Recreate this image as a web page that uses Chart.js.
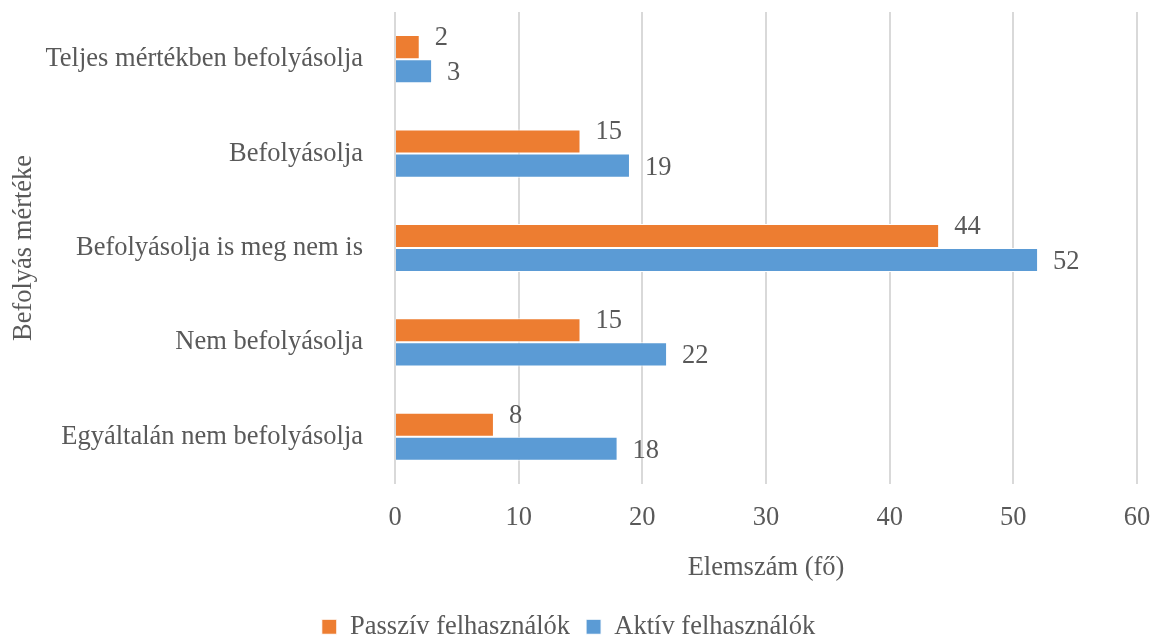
<!DOCTYPE html>
<html lang="hu">
<head>
  <meta charset="UTF-8">
  <title>Befolyás mértéke</title>
  <script src="https://cdn.jsdelivr.net/npm/chart.js"></script>
  <style>
    body {
      margin: 0;
      padding: 0;
      background-color: #ffffff;
    }
    #wrap {
      width: 1154px;
      height: 636px;
    }
  </style>
</head>
<body>
  <div id="wrap">
    <canvas id="chart" width="1154" height="636"></canvas>
  </div>

  <script>
    const kategoriak = [
      'Teljes mértékben befolyásolja',
      'Befolyásolja',
      'Befolyásolja is meg nem is',
      'Nem befolyásolja',
      'Egyáltalán nem befolyásolja'
    ];
    const passziv = [2, 15, 44, 15, 8];
    const aktiv = [3, 19, 52, 22, 18];
    const xTicks = [0, 10, 20, 30, 40, 50, 60];

    const betu = 'Liberation Serif, Times New Roman, serif';
    const szoveg = '#595959';
    const meret = 26.5;

    // értékcímkék a sávok végén
    const cimkek = {
      id: 'cimkek',
      afterDatasetsDraw(chart) {
        const ctx = chart.ctx;
        ctx.save();
        ctx.font = meret + 'px ' + betu;
        ctx.fillStyle = szoveg;
        ctx.textAlign = 'left';
        ctx.textBaseline = 'middle';
        const eltolas = [-9, 2];
        chart.data.datasets.forEach((ds, i) => {
          chart.getDatasetMeta(i).data.forEach((bar, j) => {
            ctx.fillText(String(ds.data[j]), bar.x + 15, bar.y + eltolas[i]);
          });
        });
        ctx.restore();
      }
    };

    // a jelmagyarázat kicsit lejjebb kerül (mint az eredetin, alul levágva)
    const legendLejjebb = {
      id: 'legendLejjebb',
      beforeInit(chart) {
        const eredeti = chart.legend.fit;
        chart.legend.fit = function () {
          eredeti.call(this);
          this.height -= 14;
        };
      }
    };

    new Chart(document.getElementById('chart'), {
      type: 'bar',
      data: {
        labels: kategoriak,
        datasets: [
          {
            label: 'Passzív felhasználók',
            data: passziv,
            backgroundColor: '#ED7D31',
            borderColor: '#ffffff',
            borderWidth: 1,
            categoryPercentage: 0.51,
            barPercentage: 1
          },
          {
            label: 'Aktív felhasználók',
            data: aktiv,
            backgroundColor: '#5B9BD5',
            borderColor: '#ffffff',
            borderWidth: 1,
            categoryPercentage: 0.51,
            barPercentage: 1
          }
        ]
      },
      options: {
        indexAxis: 'y',
        responsive: false,
        animation: false,
        layout: {
          padding: { top: 12, right: 17, bottom: 0, left: 0 }
        },
        plugins: {
          legend: {
            position: 'bottom',
            labels: {
              font: { family: betu, size: meret },
              color: szoveg,
              boxWidth: 15,
              boxHeight: 15,
              padding: 16
            }
          },
          tooltip: { enabled: false }
        },
        scales: {
          x: {
            min: 0,
            max: 60,
            afterBuildTicks(axis) {
              axis.ticks = xTicks.map(v => ({ value: v }));
            },
            grid: {
              color: '#d9d9d9',
              lineWidth: 2,
              drawTicks: true,
              tickLength: 18,
              tickColor: 'rgba(0,0,0,0)'
            },
            border: { display: false },
            ticks: {
              font: { family: betu, size: meret },
              color: szoveg,
              padding: 0
            },
            title: {
              display: true,
              text: 'Elemszám (fő)',
              font: { family: betu, size: meret },
              color: szoveg,
              padding: { top: 18, bottom: 14 }
            }
          },
          y: {
            grid: { display: false, drawTicks: true, tickLength: 32 },
            border: { display: false },
            afterFit(axis) {
              axis.width = 395;
            },
            ticks: {
              font: { family: betu, size: meret, lineHeight: 0.8 },
              color: szoveg,
              padding: 0
            },
            title: {
              display: true,
              text: 'Befolyás mértéke',
              font: { family: betu, size: meret },
              color: szoveg,
              padding: { top: 8, bottom: 0 }
            }
          }
        }
      },
      plugins: [cimkek, legendLejjebb]
    });
  </script>
</body>
</html>
